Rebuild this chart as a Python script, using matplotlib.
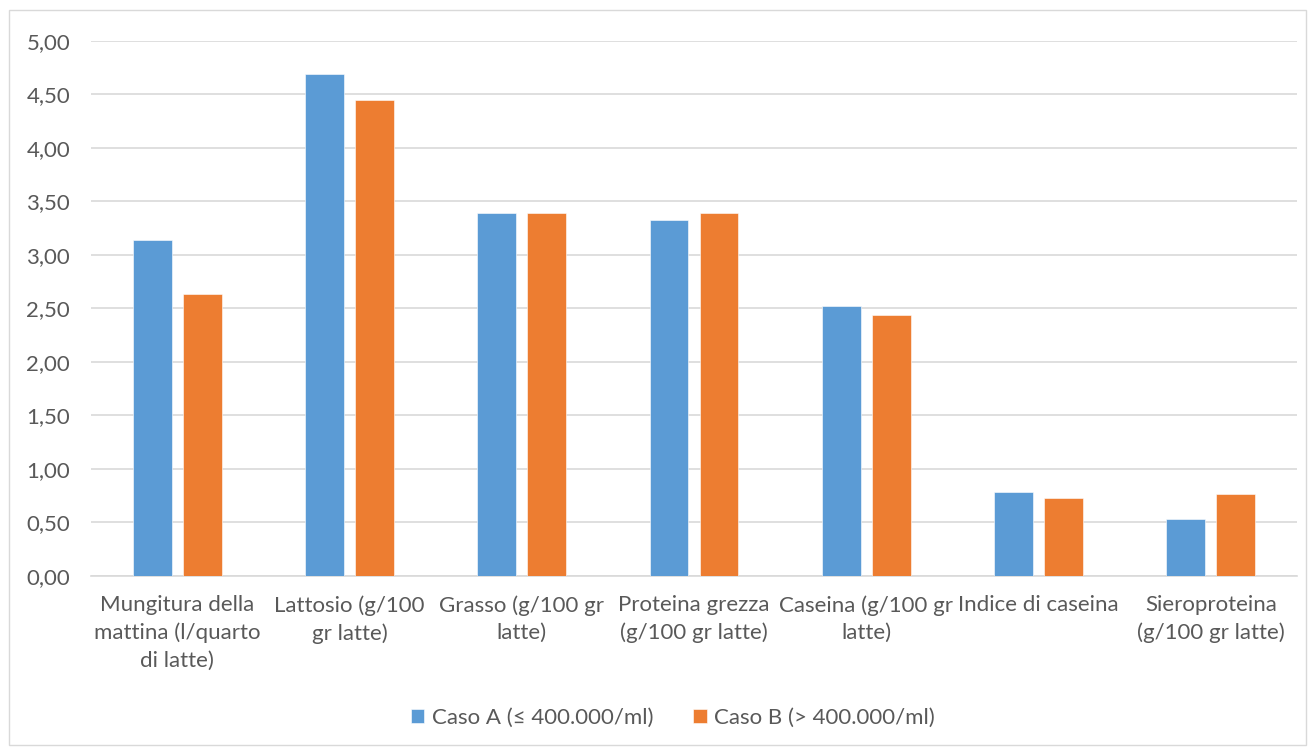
import matplotlib
matplotlib.use("Agg")
import matplotlib.pyplot as plt
import numpy as np
from matplotlib.patches import Rectangle

plt.rcParams['font.family'] = ['Lato', 'DejaVu Sans']

categories = [
    "Mungitura della\nmattina (l/quarto\ndi latte)",
    "Lattosio (g/100\ngr latte)",
    "Grasso (g/100 gr\nlatte)",
    "Proteina grezza\n(g/100 gr latte)",
    "Caseina (g/100 gr\nlatte)",
    "Indice di caseina",
    "Sieroproteina\n(g/100 gr latte)",
]
caso_a = [3.14, 4.69, 3.39, 3.32, 2.52, 0.78, 0.53]
caso_b = [2.63, 4.45, 3.39, 3.39, 2.44, 0.73, 0.76]
series_labels = ["Caso A (≤ 400.000/ml)", "Caso B (> 400.000/ml)"]
y_ticks = [0, 0.5, 1.0, 1.5, 2.0, 2.5, 3.0, 3.5, 4.0, 4.5, 5.0]

W, H = 1316, 751
fig = plt.figure(figsize=(W / 100, H / 100), dpi=100)
fig.patches.append(Rectangle((9 / W, 1 - 745 / H), (1306 - 9) / W, (745 - 10) / H,
                             transform=fig.transFigure, fill=False,
                             edgecolor="#d9d9d9", linewidth=1.0))

ax = fig.add_axes([91 / W, 1 - 575.7 / H, (1297 - 91) / W, (575.7 - 40.7) / H])

text_color = "#595959"
grid_color = "#d9d9d9"
font_size = 16
x = np.arange(len(categories))
width = 0.225
offset = 0.145
ax.bar(x - offset, caso_a, width, color="#5B9BD5", label=series_labels[0],
       edgecolor="#ffffff", linewidth=0.4, zorder=3)
ax.bar(x + offset, caso_b, width, color="#ED7D31", label=series_labels[1],
       edgecolor="#ffffff", linewidth=0.4, zorder=3)

ax.set_xlim(-0.5, len(categories) - 0.5)
ax.set_ylim(0, 5)
ax.set_yticks(y_ticks)
ax.set_yticklabels([f"{v:.2f}".replace(".", ",") for v in y_ticks])
ax.set_xticks(x)
ax.set_xticklabels(categories, linespacing=1.45)

ax.yaxis.grid(True, color=grid_color, linewidth=1.2, zorder=0)
ax.set_axisbelow(True)
for side in ("top", "right", "left"):
    ax.spines[side].set_visible(False)
ax.spines["bottom"].set_color(grid_color)
ax.spines["bottom"].set_linewidth(1.2)
ax.tick_params(axis="both", length=0, labelsize=font_size, colors=text_color)
ax.tick_params(axis="y", pad=15)
ax.tick_params(axis="x", pad=14)

leg = fig.legend(loc="center", bbox_to_anchor=(673 / W, 1 - 718 / H), ncol=2,
                 frameon=False, fontsize=font_size, handlelength=0.6, handleheight=0.6,
                 handletextpad=0.35, columnspacing=1.8)
for t in leg.get_texts():
    t.set_color(text_color)

fig.savefig("out.png", dpi=100)
